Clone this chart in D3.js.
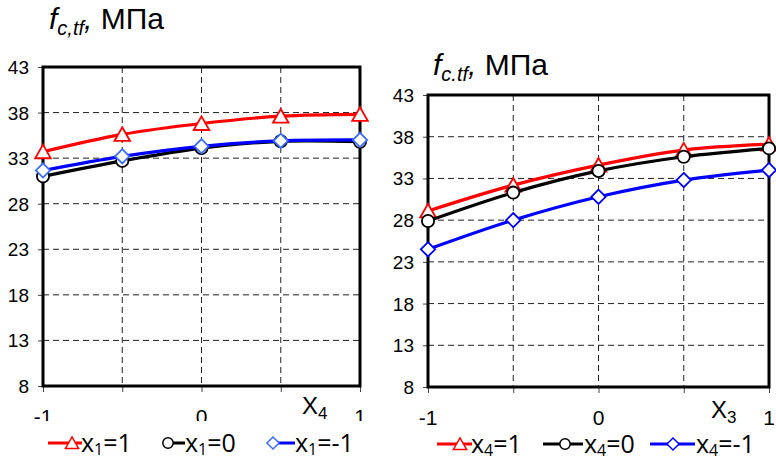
<!DOCTYPE html>
<html>
<head>
<meta charset="utf-8">
<script src="https://cdn.jsdelivr.net/npm/d3@7"></script>
<style>
  html, body { margin: 0; padding: 0; background: #fff; }
  svg { display: block; }
</style>
</head>
<body>
<div id="root"></div>
<script>
// levels of the factor on the x axis, y ticks, labelled x ticks
const xLevels = [-1, -0.5, 0, 0.5, 1]
const yTicks = [8, 13, 18, 23, 28, 33, 38, 43]
const xTickLabels = [-1, 0, 1]
const seriesLevels = ["1", "0", "-1"]

// left panel: f_c,tf vs X4 for x1 = 1, 0, -1
const leftX1p = [33.7, 35.6, 36.8, 37.6, 37.8]
const leftX10 = [31.0, 32.7, 34.1, 34.85, 34.8]
const leftX1m = [31.65, 33.2, 34.3, 34.9, 35.0]

// right panel: f_c.tf vs X3 for x4 = 1, 0, -1
const rightX4p = [29.1, 32.2, 34.6, 36.4, 37.1]
const rightX40 = [27.9, 31.3, 33.9, 35.6, 36.6]
const rightX4m = [24.5, 28.0, 30.8, 32.8, 34.0]

const W = 776, H = 461
const svg = d3.select("#root").append("svg").attr("width", W).attr("height", H)

const styles = [
    {color: "#ff0000", marker: "triangle"},
    {color: "#000000", marker: "circle"},
    {color: "#0000ff", marker: "diamond"}
]

function markerPath (type, s) {
    if (type === "triangle") return `M0,${-s * 0.55}L${s * 0.6},${s * 0.5}L${-s * 0.6},${s * 0.5}Z`
    if (type === "diamond") return `M0,${-s * 0.55}L${s * 0.55},0L0,${s * 0.55}L${-s * 0.55},0Z`
    return d3.arc()({innerRadius: 0, outerRadius: s * 0.47, startAngle: 0, endAngle: 2 * Math.PI})
}

function drawPanel (cfg) {
    const g = svg.append("g")
    const x = d3.scaleLinear().domain([-1, 1]).range([cfg.left, cfg.right])
    const y = d3.scaleLinear().domain([8, 43]).range([cfg.bottom, cfg.top])

    // grid
    g.append("g").selectAll("line").data(yTicks.slice(1, -1)).join("line")
        .attr("x1", cfg.left).attr("x2", cfg.right)
        .attr("y1", d => y(d)).attr("y2", d => y(d))
        .attr("stroke", "#222").attr("stroke-width", 1).attr("stroke-dasharray", "6,4")
    g.append("g").selectAll("line").data(xLevels.slice(1, -1)).join("line")
        .attr("y1", cfg.top).attr("y2", cfg.bottom)
        .attr("x1", d => x(d)).attr("x2", d => x(d))
        .attr("stroke", "#222").attr("stroke-width", 1).attr("stroke-dasharray", "6,4")

    // axes: outward ticks only, labels drawn separately
    g.append("g").attr("transform", `translate(${cfg.left},0)`)
        .call(d3.axisLeft(y).tickValues(yTicks).tickSize(5).tickFormat(""))
        .call(a => a.select(".domain").remove())
        .selectAll("line").attr("stroke", "#444")
    g.append("g").attr("transform", `translate(0,${cfg.bottom})`)
        .call(d3.axisBottom(x).tickValues(xLevels).tickSize(6).tickFormat(""))
        .call(a => a.select(".domain").remove())
        .selectAll("line").attr("stroke", "#444")

    g.append("g").selectAll("text").data(yTicks).join("text")
        .attr("x", cfg.left - 14).attr("y", d => y(d) + 7)
        .attr("text-anchor", "end")
        .style("font", "19px 'Liberation Sans', Arial, sans-serif")
        .text(d => d)

    const clipId = "clip" + cfg.id
    svg.append("clipPath").attr("id", clipId).append("rect")
        .attr("x", cfg.left - 30).attr("y", cfg.bottom + 8)
        .attr("width", cfg.right - cfg.left + 60).attr("height", cfg.clipY - cfg.bottom - 8)
    g.append("g").attr("clip-path", `url(#${clipId})`)
        .selectAll("text").data(xTickLabels).join("text")
        .attr("x", d => x(d)).attr("y", cfg.bottom + 38)
        .attr("text-anchor", "middle")
        .style("font", "21px 'Liberation Sans', Arial, sans-serif")
        .text(d => d)

    // axis title X4 / X3
    const xt = g.append("text").attr("x", cfg.xTitleX).attr("y", cfg.xTitleY)
        .style("font", "24px 'Liberation Sans', Arial, sans-serif")
    xt.append("tspan").text("X")
    xt.append("tspan").attr("dy", 5).style("font-size", "17px").text(cfg.xSub)

    // chart title
    const tt = g.append("text").attr("x", cfg.titleX).attr("y", cfg.titleY)
        .style("font", "30px 'Liberation Sans', Arial, sans-serif")
    tt.append("tspan").style("font-style", "italic").text("f")
    tt.append("tspan").attr("dy", 6).style("font-style", "italic").style("font-size", "20px").text(cfg.titleSub)
    tt.append("tspan").attr("dy", -6).style("font-style", "italic").text(",")
    tt.append("tspan").text(" МПа")

    // frame
    g.append("rect")
        .attr("x", cfg.left).attr("y", cfg.top)
        .attr("width", cfg.right - cfg.left).attr("height", cfg.bottom - cfg.top)
        .attr("fill", "none").attr("stroke", "#000").attr("stroke-width", 3)

    // series
    const line = d3.line().x((d, i) => x(xLevels[i])).y(d => y(d)).curve(d3.curveCatmullRom.alpha(0.5))
    cfg.series.forEach((vals, k) => {
        const st = styles[k]
        const col = k === 2 ? cfg.blueMarker : st.color
        g.append("path").attr("d", line(vals))
            .attr("fill", "none").attr("stroke", st.color).attr("stroke-width", 3.2)
        g.append("g").selectAll("path").data(vals).join("path")
            .attr("transform", (d, i) => `translate(${x(xLevels[i])},${y(d)})`)
            .attr("d", markerPath(st.marker, 13))
            .attr("fill", "#fff").attr("stroke", col).attr("stroke-width", 1.8)
    })

    // legend
    const ly = cfg.legendY
    cfg.legend.forEach((it, k) => {
        const st = styles[k]
        const col = k === 2 ? cfg.blueMarker : st.color
        g.append("line").attr("x1", it.l1).attr("x2", it.l2).attr("y1", ly).attr("y2", ly)
            .attr("stroke", st.color).attr("stroke-width", 3)
        g.append("path").attr("transform", `translate(${it.m},${ly})`)
            .attr("d", markerPath(st.marker, 11))
            .attr("fill", "#fff").attr("stroke", col).attr("stroke-width", 1.5)
        const t = g.append("text").attr("x", it.t).attr("y", ly + 9)
            .style("font", "25px 'Open Sans', 'Noto Sans', sans-serif")
        t.append("tspan").text("x")
        t.append("tspan").attr("dy", 3).style("font-size", "16px").text(cfg.legendSub)
        t.append("tspan").attr("dy", -3).text("=" + seriesLevels[k])
    })
}

drawPanel({
    id: "L", left: 43, right: 360, top: 67, bottom: 386, clipY: 421,
    series: [leftX1p, leftX10, leftX1m], blueMarker: "#3b6cff",
    xSub: "4", xTitleX: 302, xTitleY: 414,
    titleSub: "c,tf", titleX: 49, titleY: 29,
    legendSub: "1", legendY: 443,
    legend: [{l1: 48, l2: 82, m: 72, t: 81}, {l1: 170, l2: 185, m: 168, t: 185}, {l1: 277, l2: 295, m: 273, t: 295}]
})

drawPanel({
    id: "R", left: 428, right: 769, top: 95, bottom: 387, clipY: 425,
    series: [rightX4p, rightX40, rightX4m], blueMarker: "#0000ff",
    xSub: "3", xTitleX: 711, xTitleY: 418,
    titleSub: "c.tf", titleX: 433, titleY: 75,
    legendSub: "4", legendY: 444,
    legend: [{l1: 437, l2: 472, m: 460, t: 471}, {l1: 543, l2: 583, m: 565, t: 584}, {l1: 650, l2: 695, m: 673, t: 696}]
})
</script>
</body>
</html>
